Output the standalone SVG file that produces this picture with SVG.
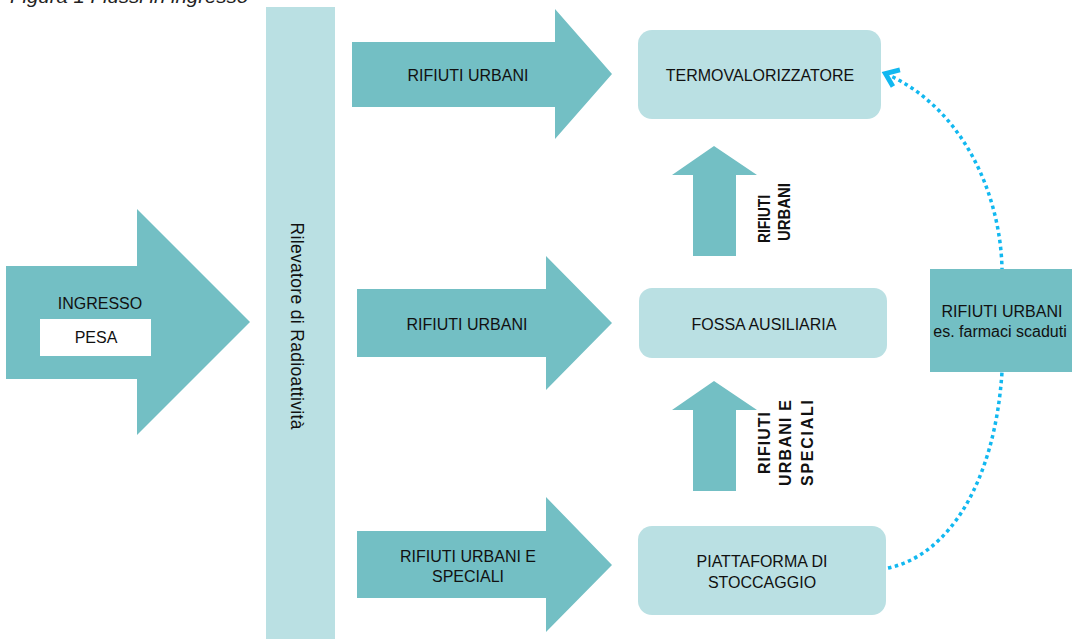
<svg xmlns="http://www.w3.org/2000/svg" width="1072" height="639" viewBox="0 0 1072 639">
  <style>
    .dark { fill: #73BFC4; }
    .light { fill: #BAE0E3; }
    .t { font-family: "Liberation Sans", Arial, sans-serif; font-size: 16px; fill: #111; text-anchor: middle; }
    .b { font-family: "Liberation Sans", Arial, sans-serif; font-size: 16px; font-weight: bold; fill: #111; }
    .title { font-family: "Liberation Sans", Arial, sans-serif; font-size: 19px; font-style: italic; fill: #222; }
    .flow { fill: none; stroke: #12B8F0; stroke-width: 3.5; stroke-dasharray: 3.5 3.5; }
  </style>
  <defs>
    <marker id="chev" markerUnits="userSpaceOnUse" markerWidth="30" markerHeight="30" refX="0" refY="0" viewBox="-16 -10 20 20" orient="auto" overflow="visible">
      <path d="M-9,-6 L-1,0 L-9,6" fill="none" stroke="#12B8F0" stroke-width="3.2"/>
    </marker>
  </defs>
  <rect width="1072" height="639" fill="#fff"/>

  <text class="title" x="10" y="3" textLength="238" lengthAdjust="spacingAndGlyphs">Figura 1 Flussi in ingresso</text>

  <g id="connectors">
    <path class="flow" d="M888,568 C950,555 995,480 1002,372 L1002,268 C1000,190 960,105 884,73" marker-end="url(#chev)"/>
  </g>

  <g id="ingresso">
    <polygon class="dark" points="6,266 137,266 137,209 250,322 137,435 137,379 6,379"/>
    <text class="t" x="100" y="309">INGRESSO</text>
    <rect x="40" y="319" width="111" height="37" fill="#fff"/>
    <text class="t" x="96" y="343">PESA</text>
  </g>

  <g id="rilevatore">
    <rect class="light" x="266" y="7" width="69" height="640"/>
    <text class="t" style="font-size:17.5px" transform="translate(291,326) rotate(90)" textLength="207" lengthAdjust="spacing">Rilevatore  di Radioattività</text>
  </g>

  <g id="arrow-urbani-1">
    <polygon class="dark" points="352,42 555,42 555,9 612,74 555,139 555,107 352,107"/>
    <text class="t" x="468" y="81">RIFIUTI URBANI</text>
  </g>

  <g id="arrow-urbani-2">
    <polygon class="dark" points="357,289 546,289 546,256 612,323 546,390 546,357 357,357"/>
    <text class="t" x="467" y="330">RIFIUTI URBANI</text>
  </g>

  <g id="arrow-urbani-speciali">
    <polygon class="dark" points="357,531 546,531 546,497 612,565 546,632 546,598 357,598"/>
    <text class="t" x="468" y="562">RIFIUTI URBANI E</text>
    <text class="t" x="468" y="582">SPECIALI</text>
  </g>

  <g id="termovalorizzatore">
    <rect class="light" x="638" y="30" width="243" height="89" rx="14"/>
    <text class="t" x="760" y="81">TERMOVALORIZZATORE</text>
  </g>

  <g id="fossa">
    <rect class="light" x="639" y="288" width="248" height="70" rx="13"/>
    <text class="t" x="764" y="330">FOSSA AUSILIARIA</text>
  </g>

  <g id="piattaforma">
    <rect class="light" x="638" y="526" width="248" height="89" rx="14"/>
    <text class="t" x="762" y="567">PIATTAFORMA  DI</text>
    <text class="t" x="762" y="588">STOCCAGGIO</text>
  </g>

  <g id="up-arrow-1">
    <polygon class="dark" points="714,146 757,175 736,175 736,256 693,256 693,175 672,175"/>
    <text class="b" transform="translate(770,243) rotate(-90)" textLength="48" lengthAdjust="spacingAndGlyphs">RIFIUTI</text>
    <text class="b" transform="translate(790,241) rotate(-90)" textLength="58" lengthAdjust="spacingAndGlyphs">URBANI</text>
  </g>

  <g id="up-arrow-2">
    <polygon class="dark" points="714,381 757,410 736,410 736,491 693,491 693,410 672,410"/>
    <text class="b" text-anchor="middle" transform="translate(770,443) rotate(-90)" textLength="62" lengthAdjust="spacing">RIFIUTI</text>
    <text class="b" text-anchor="middle" transform="translate(791,443) rotate(-90)" textLength="86" lengthAdjust="spacing">URBANI E</text>
    <text class="b" text-anchor="middle" transform="translate(813,443) rotate(-90)" textLength="86" lengthAdjust="spacing">SPECIALI</text>
  </g>

  <g id="rifiuti-farmaci">
    <rect class="dark" x="930" y="269" width="150" height="103"/>
    <text class="t" x="1002" y="317">RIFIUTI  URBANI</text>
    <text class="t" x="1000" y="337">es. farmaci scaduti</text>
  </g>
</svg>
